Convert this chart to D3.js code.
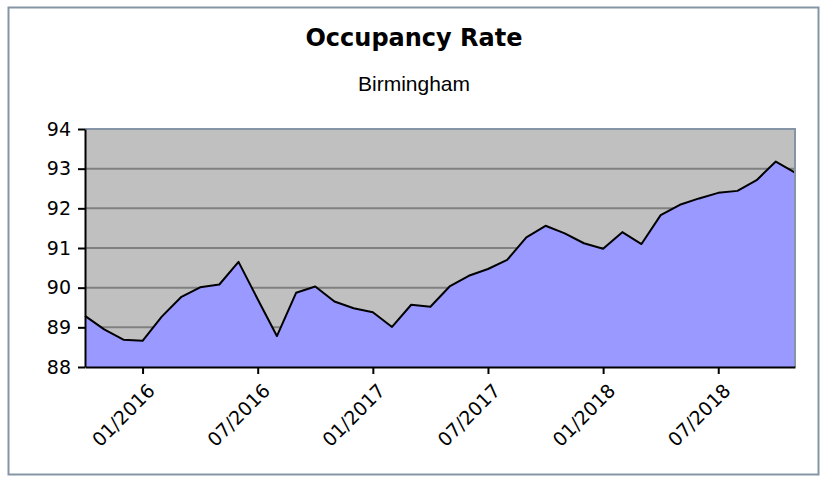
<!DOCTYPE html>
<html>
<head>
<meta charset="utf-8">
<script src="https://cdn.jsdelivr.net/npm/d3@7"></script>
<style>
  body { margin: 0; background: #fff; }
  svg text { font-family: "DejaVu Sans", Verdana, sans-serif; }
</style>
</head>
<body>
<svg id="chart" width="824" height="477"></svg>
<script>
// months Oct 2015 .. Nov 2018
var months = ["10/2015","11/2015","12/2015",
  "01/2016","02/2016","03/2016","04/2016","05/2016","06/2016","07/2016","08/2016","09/2016","10/2016","11/2016","12/2016",
  "01/2017","02/2017","03/2017","04/2017","05/2017","06/2017","07/2017","08/2017","09/2017","10/2017","11/2017","12/2017",
  "01/2018","02/2018","03/2018","04/2018","05/2018","06/2018","07/2018","08/2018","09/2018","10/2018","11/2018"];
var occupancy = [89.29, 88.95, 88.69,
  88.66, 89.27, 89.76, 90.01, 90.08, 90.65, 89.71, 88.78, 89.87, 90.03, 89.65, 89.48,
  89.38, 89.01, 89.57, 89.52, 90.03, 90.30, 90.47, 90.70, 91.27, 91.56, 91.37, 91.12,
  90.98, 91.40, 91.10, 91.83, 92.09, 92.25, 92.39, 92.44, 92.71, 93.18, 92.90];
var xTicks = ["01/2016","07/2016","01/2017","07/2017","01/2018","07/2018"];
var yTicks = [88, 89, 90, 91, 92, 93, 94];

(function () {
  var svg = d3.select("#chart");
  var pl = 85, pr = 795, pt = 129, pb = 367;

  // outer frame
  svg.append("rect").attr("x", 8.5).attr("y", 7.5).attr("width", 810).attr("height", 467)
    .attr("fill", "#fff").attr("stroke", "#8595a5").attr("stroke-width", 2);

  svg.append("text").attr("x", 414).attr("y", 46).attr("text-anchor", "middle")
    .style("font-size", "24px").style("font-weight", "bold").text("Occupancy Rate");
  svg.append("text").attr("x", 414).attr("y", 91).attr("text-anchor", "middle")
    .style("font-family", "'Liberation Sans', Arial, sans-serif")
    .style("font-size", "21px").text("Birmingham");

  var x = d3.scalePoint().domain(months).range([pl, pr]);
  var y = d3.scaleLinear().domain([88, 94]).range([pb, pt]);

  // plot background
  svg.append("rect").attr("x", pl).attr("y", pt).attr("width", pr - pl).attr("height", pb - pt)
    .attr("fill", "#c0c0c0");

  // grid
  svg.append("g").selectAll("line").data(yTicks.slice(1, -1)).join("line")
    .attr("x1", pl).attr("x2", pr).attr("y1", d => y(d)).attr("y2", d => y(d))
    .attr("stroke", "#808080").attr("stroke-width", 2);

  var data = months.map((m, i) => ({ m: m, v: occupancy[i] }));

  svg.append("path").datum(data)
    .attr("fill", "#9999ff")
    .attr("d", d3.area().x(d => x(d.m)).y0(pb).y1(d => y(d.v)));

  svg.append("path").datum(data)
    .attr("fill", "none").attr("stroke", "#000").attr("stroke-width", 2).attr("stroke-linejoin", "round")
    .attr("d", d3.line().x(d => x(d.m)).y(d => y(d.v)));

  // plot border top/right
  svg.append("path").attr("d", "M" + pl + "," + pt + "H" + pr + "V" + pb)
    .attr("fill", "none").attr("stroke", "#8595a5").attr("stroke-width", 2);

  // y axis
  var yAxis = svg.append("g").attr("transform", "translate(" + pl + ",0)")
    .call(d3.axisLeft(y).tickValues(yTicks).tickSize(7).tickSizeOuter(0).tickPadding(7).tickFormat(d3.format("d")));
  yAxis.selectAll("text").style("font-size", "19px").attr("fill", "#000");
  yAxis.selectAll("line, path").attr("stroke", "#000").attr("stroke-width", 2);

  // x axis
  var xAxis = svg.append("g").attr("transform", "translate(0," + pb + ")")
    .call(d3.axisBottom(x).tickValues(xTicks).tickSize(7).tickSizeOuter(0));
  xAxis.select(".domain").attr("stroke", "#000").attr("stroke-width", 2);
  xAxis.selectAll("line").attr("stroke", "#000").attr("stroke-width", 2);
  xAxis.selectAll("text").style("font-size", "19px").attr("fill", "#000")
    .attr("text-anchor", "end").attr("dy", "0").attr("y", 0)
    .attr("transform", "translate(13,25) rotate(-45)");
})();
</script>
</body>
</html>
